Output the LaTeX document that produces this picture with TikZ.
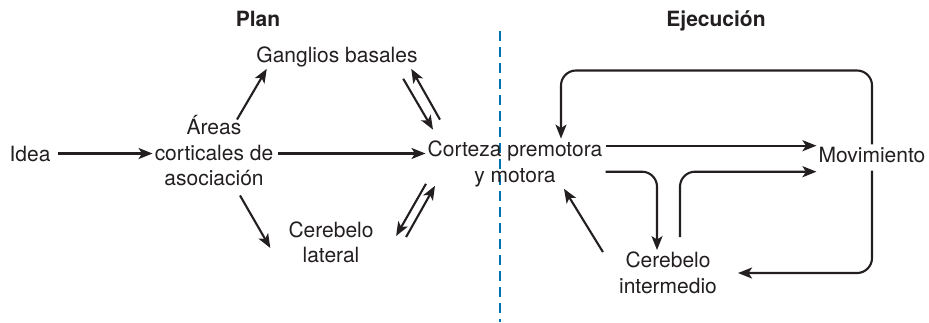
\documentclass[tikz,border=0pt]{standalone}
\usepackage{fontspec}
\setmainfont{TeX Gyre Heros}
\usetikzlibrary{arrows.meta,calc}
\definecolor{divblue}{RGB}{0,114,178}
\definecolor{inkgray}{RGB}{35,31,32}

\begin{document}
\begin{tikzpicture}[
  x=1pt, y=-1pt,
  >={Stealth[length=14pt,width=11pt,inset=3.5pt]},
  lbl/.style={font=\fontsize{21}{25.5}\selectfont, inner sep=2pt, align=center, text=inkgray},
  head/.style={font=\fontsize{21}{25.5}\selectfont\bfseries, inner sep=2pt, text=inkgray},
  arr/.style={->, line width=2.1pt, draw=inkgray},
  elbow/.style={arr, rounded corners=15pt},
  divider/.style={draw=divblue, line width=1.3pt, dash pattern=on 10pt off 6pt}
]
  \useasboundingbox (0,0) rectangle (929,322);

  % section titles and divider
  \node[head] (plan) at (258,19) {Plan};
  \node[head, anchor=base] (ejec) at (716,26) {Ejecución};
  \draw[divider] (500,31) -- (500,322);

  \node[lbl, anchor=base] (idea) at (30,161) {Idea};
  \node[lbl] (areas) at (214,151) {Áreas\\corticales de\\asociación};
  \node[lbl, anchor=base] (ganglios) at (337,62) {Ganglios basales};
  \node[lbl] (clat) at (331,242.5) {Cerebelo\\lateral};
  \node[lbl] (corteza) at (515,163.7) {Corteza premotora\\y motora};
  \node[lbl, anchor=base] (mov) at (872,162) {Movimiento};
  \node[lbl] (cint) at (668,273) {Cerebelo\\intermedio};

  % plan
  \draw[arr] ([xshift=5pt]idea.east) -- (idea.east -| areas.west);
  \draw[arr] ([xshift=3pt]idea.east -| areas.east) -- (idea.east -| corteza.west);
  \draw[arr] ([shift={(23,6)}]areas.north) -- ([shift={(12.5,0)}]ganglios.south west);
  \draw[arr] ([shift={(26,7)}]areas.south) -- ([shift={(-16,5.5)}]clat.west);
  \draw[arr] ([shift={(-16.5,10)}]ganglios.south east) -- ([shift={(7.5,-9)}]corteza.north west);
  \draw[arr] ([shift={(14.5,-19)}]corteza.north west) -- ([shift={(-8.5,0)}]ganglios.south east);
  \draw[arr] ([shift={(0.5,-5)}]corteza.south west) -- ([shift={(20.4,-6.5)}]clat.east);
  \draw[arr] ([shift={(30.4,-5.5)}]clat.east) -- ([shift={(9.5,-3)}]corteza.south west);

  % ejecucion
  \draw[arr] ([shift={(1,-18)}]corteza.east) -- ([shift={(0,-18)}]corteza.east -| mov.west);
  \draw[elbow] ([shift={(1,8)}]corteza.east) -| ([xshift=-11pt]cint.north);
  \draw[elbow] ([shift={(12,-13)}]cint.north) |- ([shift={(0,8)}]corteza.east -| mov.west);
  \draw[elbow] (mov.north) -- ++(0,-74) -| ([xshift=46pt]corteza.north);
  \draw[elbow] ([shift={(0,6)}]mov.south) |- ([xshift=19pt]cint.east);
  \draw[arr] ([shift={(-14,2)}]cint.north west) -- ([xshift=49pt]corteza.south);
\end{tikzpicture}
\end{document}
